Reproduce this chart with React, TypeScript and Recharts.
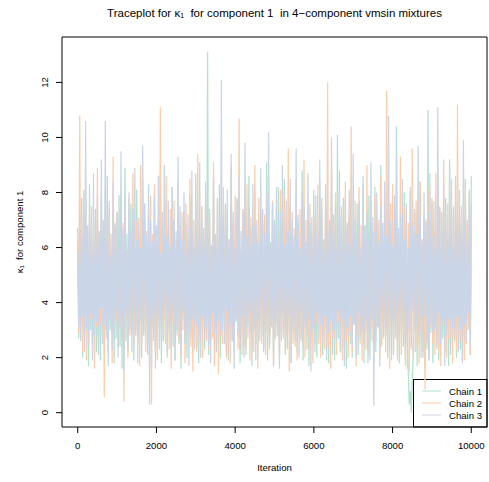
import React from "react";
import { LineChart, Line, XAxis, YAxis, ReferenceArea, Customized } from "recharts";

// Iteration step between the thinned draws that are plotted
const STEP = 25;

const chain1: number[] = [
  6.7, 2.7, 5.8, 3.2, 7.8, 2.0, 6.2, 2.9, 7.1, 3.4,
  5.9, 1.7, 8.3, 3.0, 6.5, 2.4, 6.0, 3.5, 7.4, 2.2,
  6.9, 2.8, 5.7, 1.9, 8.0, 3.3, 6.6, 2.5, 6.1, 3.1,
  8.6, 2.1, 6.4, 3.0, 5.9, 3.6, 7.3, 1.8, 6.8, 2.7,
  6.3, 3.2, 7.9, 2.4, 6.7, 1.6, 5.8, 3.1, 8.9, 2.6,
  6.5, 2.2, 6.0, 3.4, 7.6, 2.9, 7.0, 1.9, 5.9, 3.2,
  8.1, 2.5, 6.4, 3.3, 6.0, 2.0, 8.5, 2.8, 6.8, 3.2,
  5.7, 2.3, 7.4, 1.7, 6.9, 3.0, 6.2, 3.5, 7.9, 2.1,
  6.6, 2.7, 5.9, 3.1, 8.8, 1.8, 6.4, 2.6, 6.1, 3.3,
  7.7, 2.2, 6.7, 2.9, 5.8, 3.2, 8.2, 2.4, 7.1, 1.9,
  6.0, 3.0, 8.4, 2.5, 6.5, 1.6, 5.9, 3.4, 7.3, 2.8,
  6.9, 2.0, 6.3, 3.1, 7.9, 2.7, 6.4, 2.2, 5.8, 3.5,
  8.7, 2.4, 7.0, 1.8, 6.0, 3.0, 7.5, 3.2, 6.7, 2.3,
  6.2, 2.9, 13.1, 2.1, 6.6, 2.6, 5.9, 3.3, 8.0, 1.7,
  6.4, 3.1, 5.7, 2.5, 8.3, 2.0, 6.9, 2.8, 6.1, 3.6,
  7.6, 2.3, 6.8, 1.9, 5.9, 3.0, 9.0, 2.6, 6.5, 2.2,
  6.3, 3.3, 7.8, 2.7, 6.4, 1.8, 5.8, 3.0, 7.4, 2.4,
  7.1, 2.1, 6.0, 3.2, 8.6, 2.9, 6.7, 1.7, 6.2, 3.1,
  8.0, 2.5, 6.4, 2.0, 5.9, 3.4, 7.3, 2.8, 6.9, 2.3,
  5.7, 3.0, 9.1, 1.9, 6.6, 2.6, 6.2, 3.2, 7.7, 2.2,
  7.0, 2.7, 5.9, 3.1, 8.2, 1.6, 6.5, 2.9, 6.0, 3.5,
  8.5, 2.1, 6.8, 2.4, 6.3, 3.0, 7.6, 1.8, 6.4, 3.2,
  6.1, 2.6, 7.9, 2.2, 7.0, 3.1, 5.8, 2.7, 8.8, 1.9,
  6.7, 3.3, 6.2, 2.3, 7.4, 1.7, 6.9, 2.9, 5.9, 3.1,
  8.1, 2.5, 6.4, 2.0, 5.8, 3.4, 8.4, 2.8, 7.0, 2.1,
  6.3, 3.0, 7.5, 2.4, 6.6, 1.8, 6.0, 3.2, 8.0, 2.6,
  7.2, 1.9, 5.7, 3.1, 10.1, 2.7, 6.7, 2.2, 6.2, 3.3,
  7.8, 2.3, 6.5, 1.6, 6.1, 2.9, 7.3, 2.5, 8.7, 2.0,
  6.4, 3.2, 5.9, 2.6, 7.6, 2.1, 7.1, 3.3, 5.8, 2.8,
  8.3, 1.8, 6.8, 3.0, 6.3, 2.4, 7.9, 1.9, 6.6, 3.4,
  6.0, 2.7, 8.2, 2.2, 6.9, 3.1, 5.8, 1.7, 9.0, 2.5,
  6.5, 3.3, 6.2, 2.8, 7.4, 2.0, 7.0, 2.3, 5.9, 3.2,
  7.7, 2.1, 6.4, 2.9, 10.4, 2.6, 6.3, 1.8, 6.7, 3.3,
  5.8, 2.4, 8.0, 1.9, 6.9, 2.7, 1.5, 0.3, 0.8, 0.0,
  1.2, 2.2, 6.1, 3.0, 7.3, 1.7, 6.6, 2.5, 8.4, 2.0,
  6.3, 2.8, 7.1, 1.6, 5.9, 2.3, 11.0, 2.1, 6.8, 2.9,
  7.6, 1.8, 6.2, 3.2, 6.5, 2.5, 8.8, 1.9, 6.0, 3.3,
  7.3, 2.7, 5.8, 2.2, 7.8, 3.0, 6.4, 1.7, 9.2, 2.4,
  6.1, 3.4, 7.5, 2.6, 6.7, 2.0, 5.9, 3.1, 8.1, 2.3,
  6.9, 1.9, 6.3, 2.8, 8.5, 2.5, 6.5, 3.3, 6.1, 2.1,
  8.6,
];

const chain2: number[] = [
  6.3, 2.9, 10.8, 3.3, 7.0, 2.2, 6.1, 3.0, 8.4, 1.9,
  6.8, 2.6, 5.9, 3.4, 7.5, 2.8, 6.4, 1.6, 6.0, 3.1,
  8.9, 2.5, 6.6, 3.2, 7.1, 2.7, 5.8, 0.55, 8.2, 3.0,
  6.2, 2.3, 7.4, 3.5, 6.5, 1.8, 9.3, 2.9, 6.7, 3.3,
  7.3, 2.4, 6.0, 3.1, 8.0, 2.6, 6.9, 0.4, 7.2, 3.4,
  5.9, 2.0, 7.8, 2.8, 6.3, 3.2, 8.7, 2.5, 6.1, 3.0,
  7.0, 2.7, 6.4, 1.7, 9.0, 3.3, 5.8, 2.9, 7.6, 2.2,
  6.6, 3.1, 5.9, 2.6, 7.9, 0.3, 6.5, 3.0, 8.3, 2.4,
  6.0, 1.9, 7.2, 3.4, 11.1, 2.8, 6.7, 3.1, 6.2, 2.5,
  8.6, 3.0, 6.4, 2.3, 7.4, 1.6, 5.8, 3.2, 7.7, 2.7,
  6.3, 3.5, 8.1, 2.6, 6.0, 2.1, 7.3, 3.0, 6.8, 1.8,
  7.6, 2.9, 5.9, 3.3, 8.5, 2.4, 6.6, 1.5, 7.0, 3.1,
  6.1, 2.2, 9.4, 2.8, 6.5, 3.4, 7.5, 2.0, 5.9, 3.0,
  8.0, 2.6, 6.8, 2.3, 7.2, 3.2, 6.0, 2.7, 9.1, 1.7,
  6.4, 3.0, 7.7, 1.4, 5.8, 3.3, 7.0, 2.5, 8.2, 3.1,
  6.0, 2.0, 7.3, 2.9, 6.3, 1.8, 8.8, 3.2, 6.9, 2.6,
  7.9, 3.4, 6.2, 2.3, 10.7, 2.8, 5.9, 2.1, 7.4, 3.0,
  6.6, 2.4, 8.3, 3.3, 6.1, 1.9, 7.1, 2.7, 6.7, 2.2,
  9.0, 3.1, 6.0, 1.6, 7.8, 3.0, 6.4, 2.5, 5.8, 3.2,
  7.2, 2.1, 6.9, 2.9, 8.6, 2.3, 6.0, 3.1, 7.7, 1.7,
  6.2, 2.7, 7.5, 3.3, 5.9, 2.0, 8.1, 2.6, 6.8, 3.0,
  7.9, 2.2, 6.5, 2.8, 9.6, 1.5, 6.1, 3.2, 7.3, 2.5,
  6.7, 2.4, 8.5, 1.9, 5.8, 3.0, 7.4, 2.6, 6.3, 3.3,
  9.2, 2.0, 7.0, 3.1, 6.0, 2.3, 7.6, 2.7, 6.4, 1.8,
  7.1, 2.9, 5.9, 3.2, 8.3, 2.5, 6.6, 2.0, 7.8, 2.8,
  6.2, 2.3, 7.3, 3.0, 12.0, 2.4, 6.0, 1.6, 8.8, 3.1,
  6.9, 2.7, 8.0, 2.1, 6.1, 3.3, 6.5, 2.4, 7.5, 1.9,
  5.9, 3.0, 8.4, 2.6, 6.7, 2.0, 7.1, 2.9, 10.4, 2.2,
  6.3, 3.2, 7.7, 1.7, 6.0, 2.8, 8.2, 2.5, 6.8, 1.9,
  7.4, 3.0, 6.2, 2.3, 9.0, 2.1, 5.8, 3.1, 7.2, 2.6,
  6.6, 1.8, 7.9, 2.9, 6.1, 3.4, 7.0, 2.0, 8.6, 2.4,
  6.0, 2.7, 7.3, 2.2, 11.7, 3.0, 6.4, 1.6, 7.6, 2.8,
  8.3, 2.3, 6.2, 3.2, 7.1, 1.9, 5.9, 2.5, 9.3, 2.1,
  6.7, 3.0, 7.5, 1.7, 6.0, 2.7, 6.9, 1.5, 8.0, 2.3,
  9.6, 2.0, 6.5, 3.1, 7.7, 2.4, 5.8, 1.8, 8.4, 2.9,
  6.3, 2.2, 7.2, 0.85, 7.0, 2.6, 8.2, 1.9, 6.1, 3.1,
  7.8, 2.5, 6.6, 2.1, 8.7, 2.8, 6.0, 2.3, 7.4, 1.7,
  6.2, 3.2, 9.2, 2.4, 6.8, 2.0, 7.6, 2.7, 6.0, 3.3,
  8.5, 1.8, 6.4, 2.9, 7.2, 2.3, 11.2, 2.2, 6.7, 2.6,
  7.5, 3.1, 5.9, 1.9, 8.3, 2.5, 7.0, 3.0, 8.0, 2.1,
  6.5,
];

const chain3: number[] = [
  5.9, 3.1, 7.2, 2.6, 6.4, 3.5, 8.1, 2.2, 10.6, 3.0,
  6.8, 2.4, 7.5, 3.6, 5.8, 1.9, 8.7, 2.8, 6.2, 3.3,
  7.9, 2.1, 6.5, 3.8, 9.2, 2.5, 7.0, 3.2, 10.6, 2.7,
  6.1, 1.7, 7.7, 3.4, 5.7, 2.3, 8.4, 2.9, 6.9, 3.7,
  7.3, 2.0, 6.0, 3.1, 9.5, 2.6, 6.7, 1.5, 7.8, 3.5,
  5.9, 2.4, 8.0, 3.0, 6.6, 2.2, 7.4, 3.6, 8.9, 2.8,
  6.3, 1.8, 7.1, 3.3, 6.0, 2.5, 9.7, 2.9, 7.6, 3.4,
  6.5, 2.1, 8.3, 0.3, 7.0, 3.2, 6.2, 2.6, 7.9, 1.6,
  6.8, 3.5, 8.6, 2.3, 5.8, 3.0, 7.3, 2.7, 9.0, 3.8,
  6.4, 2.0, 7.7, 3.1, 6.1, 2.4, 8.2, 3.6, 7.0, 1.9,
  6.6, 2.8, 9.3, 3.3, 7.5, 2.2, 6.3, 3.7, 8.0, 2.5,
  5.9, 3.0, 7.2, 1.7, 6.7, 2.9, 8.8, 3.4, 6.0, 2.3,
  7.6, 3.2, 6.4, 2.6, 9.1, 2.0, 7.0, 3.5, 6.2, 2.7,
  8.4, 3.1, 6.9, 2.4, 7.4, 1.8, 6.1, 3.6, 8.5, 2.9,
  6.5, 2.2, 7.8, 3.3, 6.0, 2.8, 12.1, 3.0, 7.1, 2.5,
  6.7, 3.7, 8.1, 2.1, 6.3, 3.2, 9.4, 2.6, 7.3, 1.6,
  6.0, 3.4, 7.7, 2.9, 8.6, 2.3, 6.6, 3.5, 7.2, 2.0,
  9.8, 3.1, 6.4, 2.7, 7.5, 3.6, 6.1, 2.4, 8.3, 3.0,
  6.8, 1.9, 7.0, 3.3, 6.2, 2.6, 8.9, 3.8, 7.4, 2.2,
  6.5, 2.9, 7.9, 3.4, 10.2, 2.5, 6.0, 3.1, 7.6, 1.7,
  6.9, 3.2, 8.2, 2.8, 6.3, 2.1, 7.3, 3.6, 9.0, 2.7,
  6.1, 3.0, 7.7, 2.3, 6.6, 3.5, 8.5, 1.8, 7.0, 2.9,
  6.4, 3.3, 9.6, 2.6, 7.2, 2.0, 6.0, 3.7, 8.0, 2.4,
  7.5, 3.1, 6.2, 2.8, 8.7, 3.4, 6.8, 1.5, 7.1, 3.0,
  6.5, 2.2, 7.9, 3.6, 6.3, 2.7, 9.2, 3.2, 7.4, 2.5,
  6.0, 3.5, 8.3, 1.9, 6.7, 2.9, 7.0, 3.3, 10.0, 2.1,
  6.6, 3.0, 7.6, 2.6, 6.1, 3.7, 8.8, 2.3, 7.2, 3.4,
  6.4, 1.7, 7.8, 3.1, 6.9, 2.8, 8.1, 3.5, 6.2, 2.4,
  9.4, 3.2, 7.0, 2.0, 6.5, 3.6, 7.7, 2.7, 6.0, 3.0,
  8.6, 2.5, 6.8, 3.3, 7.3, 1.8, 6.3, 2.9, 9.1, 3.4,
  7.1, 0.25, 6.6, 2.6, 8.0, 3.1, 6.2, 2.2, 7.5, 3.7,
  6.9, 2.8, 8.4, 3.0, 6.4, 2.4, 10.8, 3.5, 7.0, 1.9,
  6.1, 3.2, 7.9, 2.7, 9.3, 2.1, 6.7, 3.6, 7.2, 2.9,
  8.5, 3.3, 6.3, 2.5, 7.6, 1.6, 6.0, 3.0, 8.2, 2.4,
  6.8, 3.7, 7.4, 2.2, 6.5, 3.1, 9.7, 2.8, 7.1, 3.4,
  6.2, 2.0, 8.0, 3.5, 6.9, 2.6, 7.3, 1.9, 8.7, 3.2,
  6.4, 2.9, 7.7, 3.0, 6.0, 2.3, 11.1, 3.6, 7.5, 2.5,
  6.6, 3.3, 8.3, 1.7, 7.0, 2.8, 6.3, 3.4, 9.0, 2.1,
  7.2, 3.1, 6.1, 2.7, 8.6, 3.5, 6.8, 2.2, 7.4, 3.0,
  6.5, 1.8, 9.9, 3.2, 7.1, 2.6, 6.2, 3.6, 8.1, 2.4,
  7.6,
];

const seriesNames = ["Chain 1", "Chain 2", "Chain 3"];
const seriesColors = ["#B3E2CD", "#FDCDAC", "#CBD5E8"];
const xTicks = [0, 2000, 4000, 6000, 8000, 10000];
const yTicks = [0, 2, 4, 6, 8, 10, 12];

const titleText = "Traceplot for \u03BA\u2081  for component 1  in 4\u2212component vmsin mixtures";
const yLabelText = "\u03BA\u2081  for component 1";
const xLabelText = "Iteration";

const data = chain1.map((v, i) => ({
  iter: i * STEP,
  c1: v,
  c2: chain2[i],
  c3: chain3[i],
}));

const FONT = "'Liberation Sans', Arial, Helvetica, sans-serif";
const LINE_W = 1.25;

const XTick = (props: any) => {
  const { x, payload } = props;
  return (
    <text x={x} y={449} textAnchor="middle" fontSize={9.6} fontFamily={FONT} fill="#000">
      {payload.value}
    </text>
  );
};

const YTick = (props: any) => {
  const { y, payload } = props;
  return (
    <text
      x={48}
      y={y}
      textAnchor="middle"
      fontSize={9.6}
      fontFamily={FONT}
      fill="#000"
      transform={`rotate(-90, 48, ${y})`}
    >
      {payload.value}
    </text>
  );
};

const Decorations = () => {
  const rows = [391, 403, 415];
  return (
    <g>
      <text
        x={274.5}
        y={17}
        textAnchor="middle"
        fontSize={11.5}
        fontFamily={FONT}
        fill="#000"
        xmlSpace="preserve"
        style={{ whiteSpace: "pre" }}
      >
        {titleText}
      </text>
      <text x={274.5} y={471} textAnchor="middle" fontSize={9.6} fontFamily={FONT} fill="#000">
        {xLabelText}
      </text>
      <text
        x={23}
        y={232}
        textAnchor="middle"
        fontSize={9.6}
        fontFamily={FONT}
        fill="#000"
        xmlSpace="preserve"
        style={{ whiteSpace: "pre" }}
        transform="rotate(-90, 23, 232)"
      >
        {yLabelText}
      </text>
      <rect x={413.5} y={379.5} width={73.5} height={47.5} fill="#fff" stroke="#000" strokeWidth={1} />
      {seriesNames.map((name, i) => (
        <g key={name}>
          <line x1={422} x2={441} y1={rows[i]} y2={rows[i]} stroke={seriesColors[i]} strokeWidth={1} />
          <text x={449} y={rows[i] + 3.5} fontSize={9.6} fontFamily={FONT} fill="#000">
            {name}
          </text>
        </g>
      ))}
    </g>
  );
};

export default function App() {
  return (
    <div style={{ position: "absolute", left: 0, top: 0, width: 489, height: 482, background: "#fff" }}>
      <LineChart
        width={489}
        height={482}
        data={data}
        margin={{ top: 37, right: 2, bottom: 0, left: 0 }}
      >
        <XAxis
          dataKey="iter"
          type="number"
          domain={[-400, 10400]}
          ticks={xTicks}
          allowDataOverflow
          axisLine={false}
          tickLine={{ stroke: "#000" }}
          tickSize={6}
          height={55}
          tick={<XTick />}
          interval={0}
        />
        <YAxis
          type="number"
          domain={[-0.52, 13.65]}
          ticks={yTicks}
          allowDataOverflow
          axisLine={false}
          tickLine={{ stroke: "#000" }}
          tickSize={6}
          width={62}
          tick={<YTick />}
          interval={0}
        />
        <Line dataKey="c1" stroke={seriesColors[0]} strokeWidth={LINE_W} dot={false} isAnimationActive={false} />
        <Line dataKey="c2" stroke={seriesColors[1]} strokeWidth={LINE_W} dot={false} isAnimationActive={false} />
        <Line dataKey="c3" stroke={seriesColors[2]} strokeWidth={LINE_W} dot={false} isAnimationActive={false} />
        <ReferenceArea
          x1={-400}
          x2={10400}
          y1={-0.52}
          y2={13.65}
          fill="none"
          stroke="#000"
          strokeWidth={1}
          fillOpacity={0}
          ifOverflow="visible"
        />
        <Customized component={<Decorations />} />
      </LineChart>
    </div>
  );
}
